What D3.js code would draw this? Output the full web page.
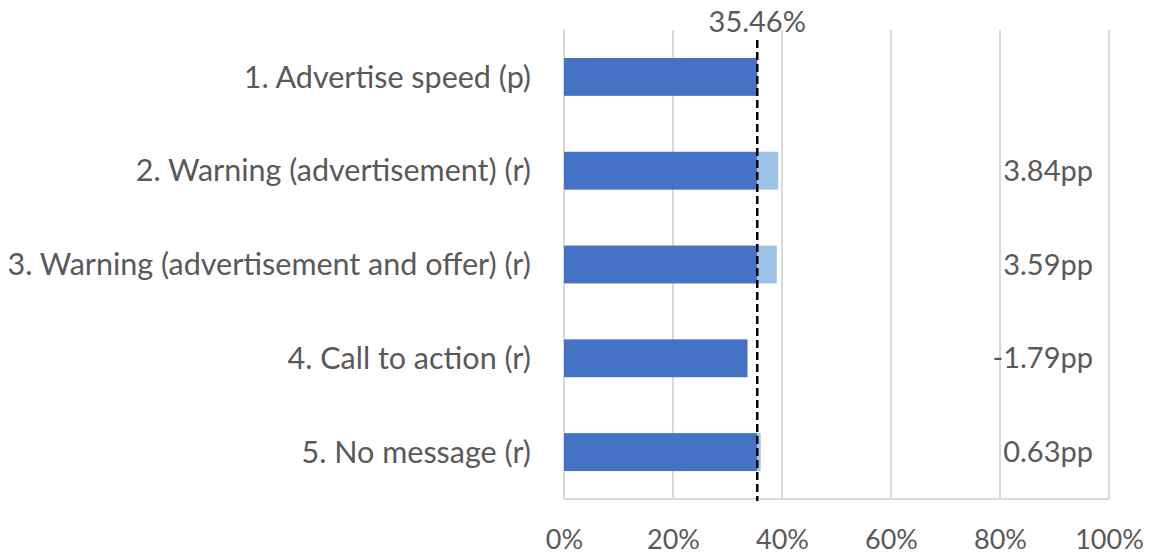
<!DOCTYPE html>
<html>
<head>
<meta charset="utf-8">
<script src="https://cdn.jsdelivr.net/npm/d3@7"></script>
<style>
  html, body { margin: 0; padding: 0; background: #ffffff; }
  svg { display: block; }
  text { font-family: Lato, "Open Sans", sans-serif; fill: #595959; }
</style>
</head>
<body>
<svg id="chart" width="1153" height="556"></svg>
<script>
const categories = [
  "1. Advertise speed (p)",
  "2. Warning (advertisement) (r)",
  "3. Warning (advertisement and offer) (r)",
  "4. Call to action (r)",
  "5. No message (r)"
];
const baseline = 35.46;
const diffs = [null, 3.84, 3.59, -1.79, 0.63];
const xTicks = [0, 20, 40, 60, 80, 100];
const diffLabels = ["", "3.84pp", "3.59pp", "-1.79pp", "0.63pp"];
const baselineLabel = "35.46%";

(function () {
const values = diffs.map(d => baseline + (d || 0));

const svg = d3.select("#chart");
const pl = 564, pr = 1109, pt = 30, pb = 499;
const FONT = "Lato, 'Open Sans', sans-serif";

const x = d3.scaleLinear().domain([0, 100]).range([pl, pr]);
const y = d3.scaleBand().domain(categories).range([pt, pb]).paddingInner(0.596).paddingOuter(0.298);

// gridlines
svg.append("g").selectAll("line").data(xTicks).join("line")
  .attr("x1", d => x(d)).attr("x2", d => x(d))
  .attr("y1", pt).attr("y2", pb)
  .attr("stroke", "#d9d9d9").attr("stroke-width", 2);

// bottom axis line
svg.append("line").attr("x1", pl).attr("x2", pr).attr("y1", pb).attr("y2", pb)
  .attr("stroke", "#d9d9d9").attr("stroke-width", 2);

// x axis labels
const xAxis = d3.axisBottom(x).tickValues(xTicks).tickFormat(d => d + "%").tickSize(0).tickPadding(0);
const gx = svg.append("g").attr("transform", `translate(0, ${pb})`).call(xAxis);
gx.select(".domain").remove();
gx.selectAll("text").attr("dy", null).attr("y", 50)
  .style("font-size", "27px").style("fill", "#595959").style("font-family", FONT);

// y axis labels
const yAxis = d3.axisLeft(y).tickSize(0).tickPadding(0);
const gy = svg.append("g").attr("transform", `translate(531, 0)`).call(yAxis);
gy.select(".domain").remove();
gy.selectAll("text").attr("dy", "0.35em")
  .style("font-size", "30.5px").style("fill", "#595959").style("font-family", FONT);

// dark bars (base portion)
svg.append("g").selectAll("rect").data(categories).join("rect")
  .attr("x", x(0))
  .attr("y", d => y(d))
  .attr("height", y.bandwidth())
  .attr("width", (d, i) => x(Math.min(values[i], baseline)) - x(0))
  .attr("fill", "#4472C4");

// light bars (increase portion)
svg.append("g").selectAll("rect").data(categories).join("rect")
  .attr("x", x(baseline))
  .attr("y", d => y(d))
  .attr("height", y.bandwidth())
  .attr("width", (d, i) => Math.max(0, x(values[i]) - x(baseline)))
  .attr("fill", "#9DC3E6");

// dashed baseline
svg.append("line")
  .attr("x1", x(baseline)).attr("x2", x(baseline))
  .attr("y1", 40).attr("y2", pb + 2)
  .attr("stroke", "#000").attr("stroke-width", 2.5)
  .attr("stroke-dasharray", "8,4");

svg.append("text")
  .attr("x", x(baseline)).attr("y", 32)
  .attr("text-anchor", "middle")
  .style("font-size", "29px")
  .text(baselineLabel);

// diff labels
svg.append("g").selectAll("text").data(categories).join("text")
  .attr("x", 1093)
  .attr("y", d => y(d) + y.bandwidth() / 2)
  .attr("dy", "0.35em")
  .attr("text-anchor", "end")
  .style("font-size", "29px")
  .text((d, i) => diffLabels[i]);
})();
</script>
</body>
</html>
